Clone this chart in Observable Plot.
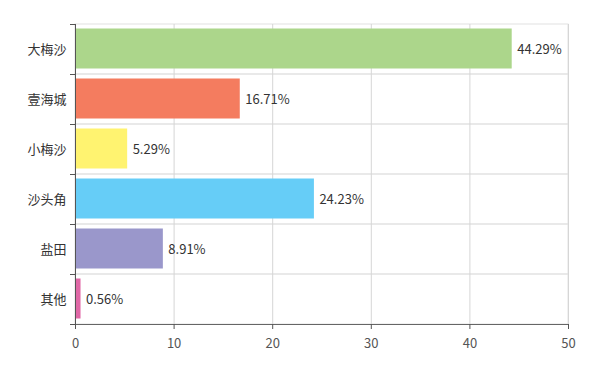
<!DOCTYPE html>
<html><head><meta charset="utf-8">
<script src="https://cdn.jsdelivr.net/npm/d3@7"></script>
<script src="https://cdn.jsdelivr.net/npm/@observablehq/plot@0.6"></script>
<style>body{margin:0;background:#fff}</style>
</head><body><div id="chart"></div>
<script>
const categories = ["大梅沙","壹海城","小梅沙","沙头角","盐田","其他"];
const values = [44.29, 16.71, 5.29, 24.23, 8.91, 0.56];
const colors = ["#acd68b","#f47c5f","#fff370","#66cdf7","#9a97cb","#e068a6"];
const xTicks = [0,10,20,30,40,50];

const data = categories.map((c,i)=>({cat:c, value:values[i], color:colors[i]}));
const font = "'Noto Sans CJK SC','Microsoft YaHei',sans-serif";

const chart = Plot.plot({
  width: 591, height: 365,
  marginLeft: 75, marginRight: 23, marginTop: 24, marginBottom: 41,
  style: {fontFamily: font, fontSize: "13px", color: "#333", background: "#fff"},
  x: {domain: [0,50], ticks: xTicks},
  y: {domain: categories, padding: 0},
  marks: [
    Plot.barX(categories, {x1: 0, x2: 50, y: d=>d, fill: "none", stroke: "#e2e2e2"}),
    Plot.ruleX(xTicks.slice(1), {stroke: "#d6d6d6"}),
    Plot.barX(data, {x: "value", y: "cat", fill: "color", insetTop: 4.5, insetBottom: 5.5}),
    Plot.text(data, {x: "value", y: "cat", text: d => d.value.toFixed(2) + "%", textAnchor: "start", dx: 5, fill: "#333", fontSize: 13}),
    Plot.ruleY(categories, {y: d=>d, x1: 0, x2: 0, insetLeft: -5, dy: -25, stroke: "#555"}),
    Plot.ruleY([categories[categories.length-1]], {y: d=>d, x1: 0, x2: 0, insetLeft: -5, dy: 25, stroke: "#555"}),
    Plot.ruleX([0], {stroke: "#555"}),
    Plot.ruleY([0], {y: () => categories[categories.length-1], x1: 0, x2: 50, dy: 25, stroke: "#666"}),
    Plot.axisX({ticks: xTicks, tickSize: 5, tickPadding: 9, stroke: "#555", fill: "#555", fontSize: 13, label: null}),
    Plot.axisY({tickSize: 0, tickPadding: 9, fill: "#333", fontSize: 13, label: null})
  ]
});
document.getElementById("chart").append(chart);
</script></body></html>
